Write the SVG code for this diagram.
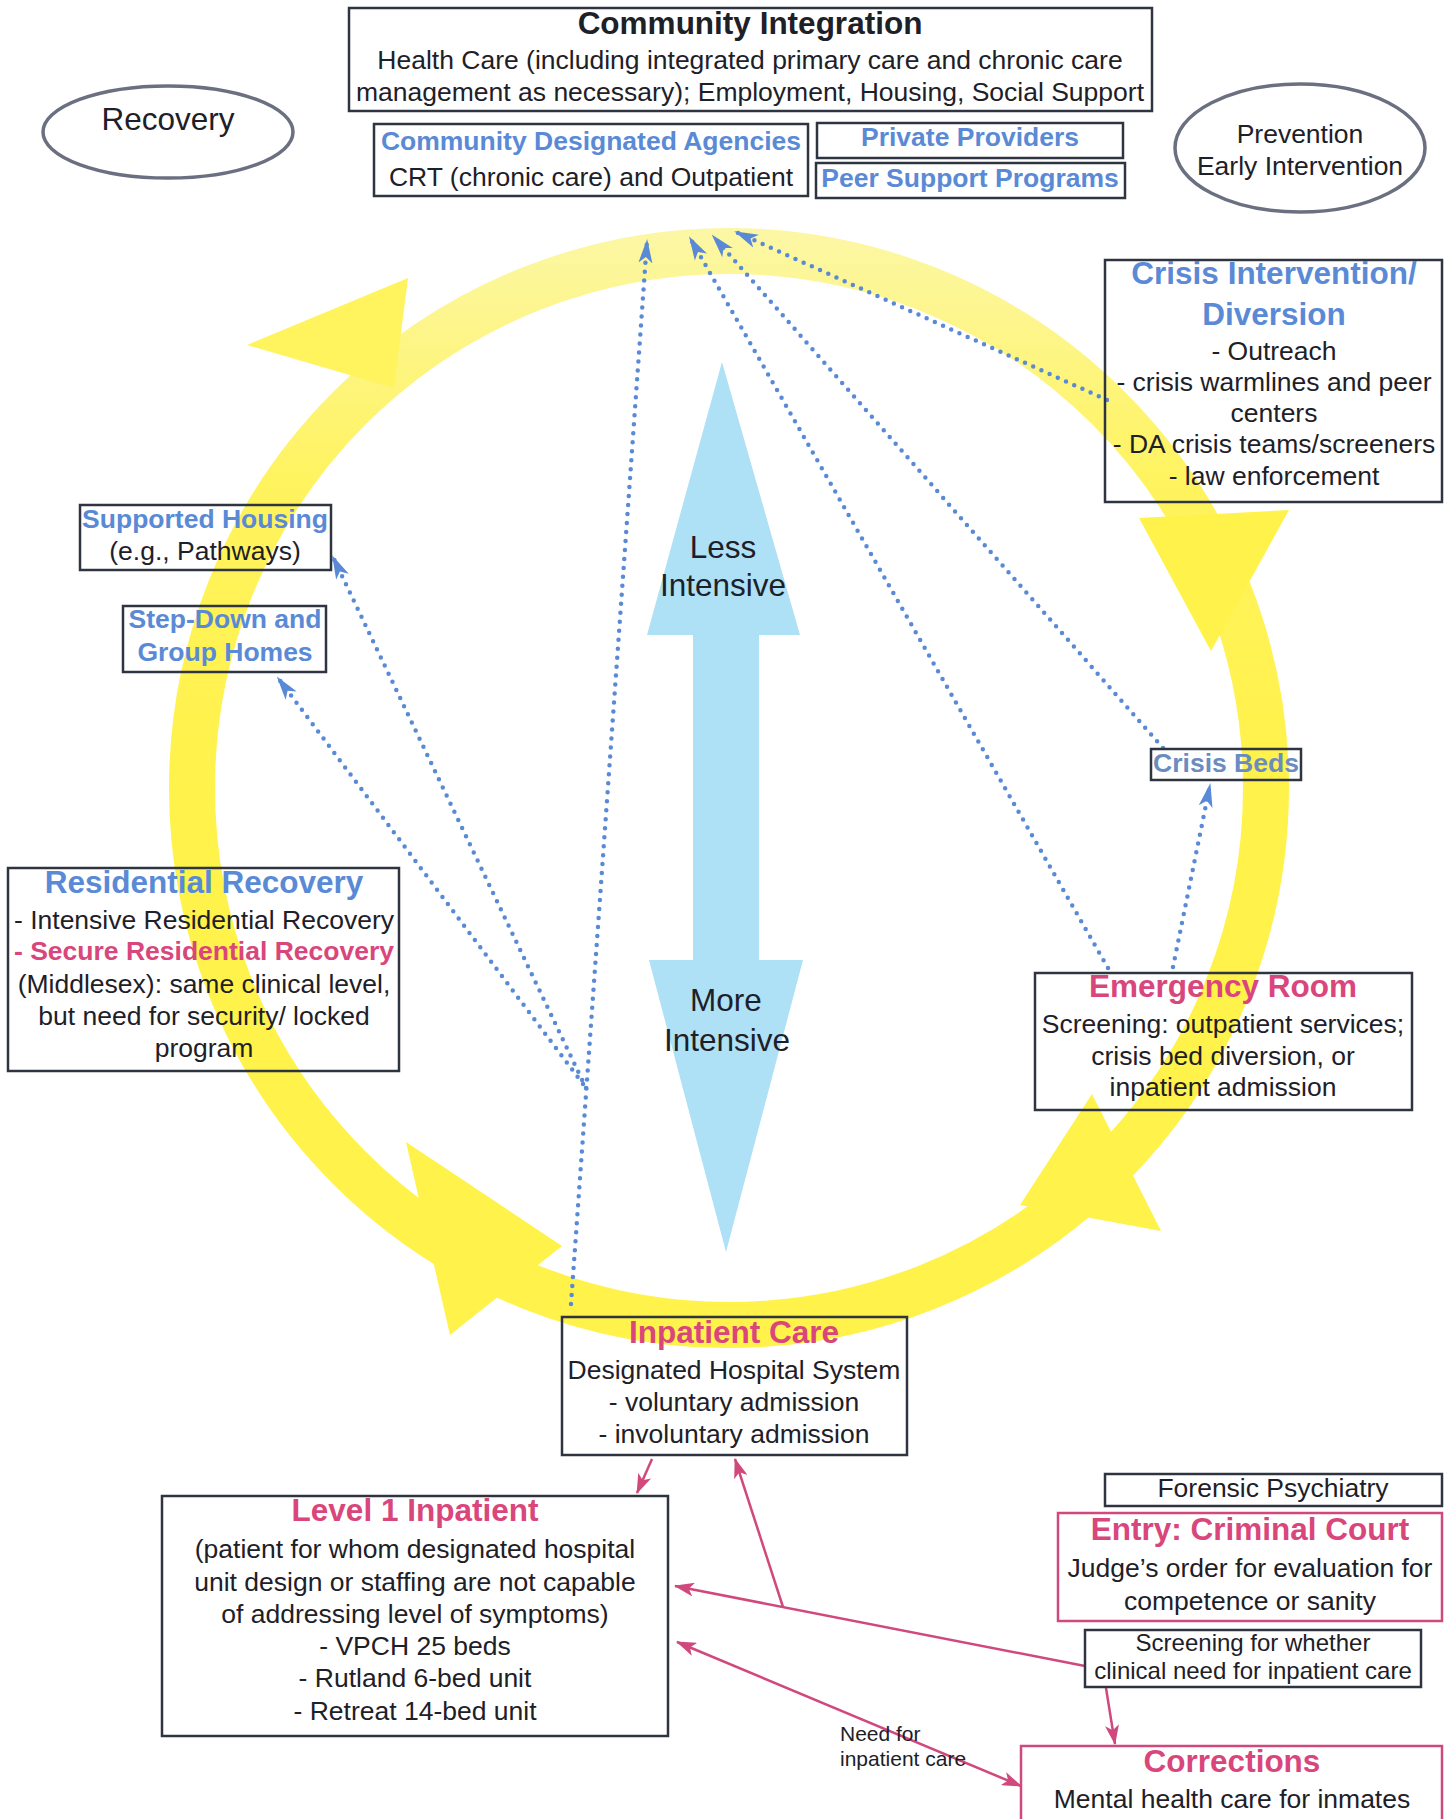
<svg xmlns="http://www.w3.org/2000/svg" width="1452" height="1819" viewBox="0 0 1452 1819">
<style>
text{font-family:"Liberation Sans",Arial,sans-serif;fill:#1e2028;text-anchor:middle}
.b{font-size:26.5px}
.t{font-size:31.5px;font-weight:bold}
.sb{font-size:26.5px;font-weight:bold}
.blue{fill:#5a8ad6}
.pink{fill:#d9467c}
.box{fill:none;stroke:#2e3440;stroke-width:2.5}
.pbox{fill:none;stroke:#d0487c;stroke-width:2.5}
.ell{fill:none;stroke:#6b7080;stroke-width:3.5}
.dot{fill:none;stroke:#5a8ad6;stroke-width:4.5;stroke-linecap:round;stroke-dasharray:0 9;marker-end:url(#ba)}
.pl{fill:none;stroke:#d0487c;stroke-width:2.5}
</style>
<defs>
<linearGradient id="yg" x1="0" y1="228" x2="0" y2="800" gradientUnits="userSpaceOnUse">
<stop offset="0" stop-color="#fcf7a6"/>
<stop offset="0.45" stop-color="#fff35e"/>
<stop offset="1" stop-color="#fff24a"/>
</linearGradient>
<marker id="ba" markerUnits="userSpaceOnUse" markerWidth="24" markerHeight="16" viewBox="0 0 24 16" refX="22" refY="8" orient="auto">
<path d="M0,1 L24,8 L0,15 L6,8 z" fill="#5a8ad6"/>
</marker>
<marker id="pa" markerUnits="userSpaceOnUse" markerWidth="20" markerHeight="14" viewBox="0 0 20 14" refX="19" refY="7" orient="auto-start-reverse">
<path d="M0,0 L20,7 L0,14 L5,7 z" fill="#d0487c"/>
</marker>
</defs>
<rect width="1452" height="1819" fill="#ffffff"/>

<g id="cycle">
<circle cx="729" cy="788" r="537" fill="none" stroke="url(#yg)" stroke-width="46"/>
<polygon points="247,345 408,278 394,388" fill="#fff35e"/>
<polygon points="1139,518 1289,510 1211,651" fill="#fff24a"/>
<polygon points="1092,1094 1161,1231 1020,1205" fill="#fff24a"/>
<polygon points="406,1142 450,1335 562,1246" fill="#fff24a"/>
</g>

<g id="intensity-arrow">
<polygon points="722,362 800,635 759,635 759,960 803,960 726,1252 649,960 693,960 693,635 647,635" fill="#aee0f6"/>
<text class="b" x="723" y="558" style="font-size:31.5px">Less</text>
<text class="b" x="723" y="596" style="font-size:31.5px">Intensive</text>
<text class="b" x="726" y="1011" style="font-size:31.5px">More</text>
<text class="b" x="727" y="1051" style="font-size:31.5px">Intensive</text>
</g>

<g id="connectors">
<line class="dot" x1="571" y1="1304" x2="647" y2="241"/>
<line class="dot" x1="586" y1="1088" x2="333" y2="557"/>
<line class="dot" x1="583" y1="1084" x2="278" y2="678"/>
<line class="dot" x1="1108" y1="968" x2="690" y2="238"/>
<line class="dot" x1="1163" y1="748" x2="713" y2="236"/>
<line class="dot" x1="1107" y1="400" x2="736" y2="232"/>
<line class="dot" x1="1173" y1="967" x2="1210" y2="785"/>
<line class="pl" x1="652" y1="1459" x2="637" y2="1493" marker-end="url(#pa)"/>
<line class="pl" x1="1085" y1="1666" x2="675" y2="1586" marker-end="url(#pa)"/>
<line class="pl" x1="783" y1="1607" x2="735" y2="1459" marker-end="url(#pa)"/>
<line class="pl" x1="677" y1="1642" x2="1021" y2="1786" marker-start="url(#pa)" marker-end="url(#pa)"/>
<line class="pl" x1="1106" y1="1688" x2="1115" y2="1744" marker-end="url(#pa)"/>
<text x="840" y="1741" style="font-size:21px;text-anchor:start">Need for</text>
<text x="840" y="1766" style="font-size:21px;text-anchor:start">inpatient care</text>
</g>

<g id="community-integration">
<rect class="box" x="349" y="8" width="803" height="103"/>
<text class="t" x="750" y="34">Community Integration</text>
<text class="b" x="750" y="69">Health Care (including integrated primary care and chronic care</text>
<text class="b" x="750" y="101">management as necessary); Employment, Housing, Social Support</text>
</g>

<g id="recovery">
<ellipse class="ell" cx="168" cy="132" rx="125" ry="46"/>
<text x="168" y="130" style="font-size:31.5px">Recovery</text>
</g>

<g id="prevention">
<ellipse class="ell" cx="1300" cy="148" rx="125" ry="64"/>
<text class="b" x="1300" y="143">Prevention</text>
<text class="b" x="1300" y="175">Early Intervention</text>
</g>

<g id="community-agencies">
<rect class="box" x="374" y="124" width="434" height="72"/>
<text class="sb blue" x="591" y="150">Community Designated Agencies</text>
<text class="b" x="591" y="186">CRT (chronic care) and Outpatient</text>
</g>

<g id="private-providers">
<rect class="box" x="817" y="123" width="306" height="35"/>
<text class="sb blue" x="970" y="146">Private Providers</text>
</g>

<g id="peer-support">
<rect class="box" x="816" y="163" width="309" height="35"/>
<text class="sb blue" x="970" y="187">Peer Support Programs</text>
</g>

<g id="crisis-intervention">
<rect class="box" x="1105" y="260" width="337" height="242"/>
<text class="t blue" x="1274" y="284">Crisis Intervention/</text>
<text class="t blue" x="1274" y="325">Diversion</text>
<text class="b" x="1274" y="360">- Outreach</text>
<text class="b" x="1274" y="391">- crisis warmlines and peer</text>
<text class="b" x="1274" y="422">centers</text>
<text class="b" x="1274" y="453">- DA crisis teams/screeners</text>
<text class="b" x="1274" y="485">- law enforcement</text>
</g>

<g id="supported-housing">
<rect class="box" x="80" y="505" width="251" height="65"/>
<text class="sb blue" x="205" y="528">Supported Housing</text>
<text class="b" x="205" y="560">(e.g., Pathways)</text>
</g>

<g id="step-down">
<rect class="box" x="123" y="606" width="203" height="66"/>
<text class="sb blue" x="225" y="628">Step-Down and</text>
<text class="sb blue" x="225" y="661">Group Homes</text>
</g>

<g id="residential-recovery">
<rect class="box" x="8" y="868" width="391" height="203"/>
<text class="t blue" x="204" y="893">Residential Recovery</text>
<text class="b" x="204" y="929">- Intensive Residential Recovery</text>
<text class="sb pink" x="204" y="960">- Secure Residential Recovery</text>
<text class="b" x="204" y="993">(Middlesex): same clinical level,</text>
<text class="b" x="204" y="1025">but need for security/ locked</text>
<text class="b" x="204" y="1057">program</text>
</g>

<g id="crisis-beds">
<rect class="box" x="1151" y="749" width="150" height="31"/>
<text class="sb" x="1226" y="772" style="fill:#6a8cc0">Crisis Beds</text>
</g>

<g id="emergency-room">
<rect class="box" x="1035" y="973" width="377" height="137"/>
<text class="t pink" x="1223" y="997">Emergency Room</text>
<text class="b" x="1223" y="1033">Screening: outpatient services;</text>
<text class="b" x="1223" y="1065">crisis bed diversion, or</text>
<text class="b" x="1223" y="1096">inpatient admission</text>
</g>

<g id="inpatient-care">
<rect class="box" x="562" y="1317" width="345" height="138"/>
<text class="t pink" x="734" y="1343">Inpatient Care</text>
<text class="b" x="734" y="1379">Designated Hospital System</text>
<text class="b" x="734" y="1411">- voluntary admission</text>
<text class="b" x="734" y="1443">- involuntary admission</text>
</g>

<g id="level1-inpatient">
<rect class="box" x="162" y="1496" width="506" height="240"/>
<text class="t pink" x="415" y="1521">Level 1 Inpatient</text>
<text class="b" x="415" y="1558">(patient for whom designated hospital</text>
<text class="b" x="415" y="1591">unit design or staffing are not capable</text>
<text class="b" x="415" y="1623">of addressing level of symptoms)</text>
<text class="b" x="415" y="1655">- VPCH 25 beds</text>
<text class="b" x="415" y="1687">- Rutland 6-bed unit</text>
<text class="b" x="415" y="1720">- Retreat 14-bed unit</text>
</g>

<g id="forensic-psychiatry">
<rect class="box" x="1105" y="1474" width="337" height="32"/>
<text class="b" x="1273" y="1497">Forensic Psychiatry</text>
</g>

<g id="criminal-court">
<rect class="pbox" x="1058" y="1513" width="384" height="108"/>
<text class="t pink" x="1250" y="1540">Entry: Criminal Court</text>
<text class="b" x="1250" y="1577">Judge’s order for evaluation for</text>
<text class="b" x="1250" y="1610">competence or sanity</text>
</g>

<g id="screening">
<rect class="box" x="1085" y="1630" width="336" height="57"/>
<text x="1253" y="1651" style="font-size:24px">Screening for whether</text>
<text x="1253" y="1679" style="font-size:24px">clinical need for inpatient care</text>
</g>

<g id="corrections">
<rect class="pbox" x="1021" y="1746" width="421" height="80"/>
<text class="t pink" x="1232" y="1772">Corrections</text>
<text class="b" x="1232" y="1808">Mental health care for inmates</text>
</g>
</svg>
